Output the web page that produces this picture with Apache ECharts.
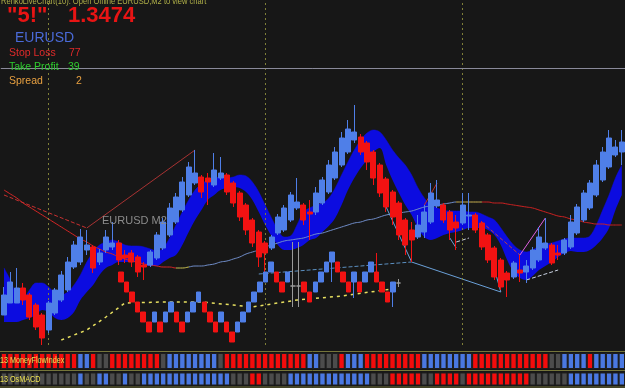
<!DOCTYPE html>
<html><head><meta charset="utf-8">
<script src="https://cdn.jsdelivr.net/npm/echarts@6/dist/echarts.min.js"></script>
<style>html,body{margin:0;padding:0;background:#171717;overflow:hidden}#c{width:625px;height:388px;}</style>
</head><body><div id="c"></div>
<script>
// ---- main renko candles (value = pips above base) ----
const mainOpen  = [30,42,42,57,50,40,30,15,32,45,55,78,83,95,98,83,95,98,102,90,92,88,80,80,87,97,110,123,135,150,162,168,167,160,167,170,162,152,140,125,113,102,97,112,115,125,137,140,133,133,142,153,167,180,193,205,208,202,193,180,166,153,142,125,115,108,113,123,139,140,133,123,122,129,130,122,110,97,85,72,68,75,73,77,85,97,100,92,92,98,112,125,137,150,165,178,190,193];
const mainClose = [50,63,57,45,28,18,7,42,55,70,83,100,108,100,77,92,108,102,85,87,83,73,78,93,110,123,137,148,163,178,172,153,163,175,172,153,142,128,115,102,88,92,108,128,137,150,143,125,131,152,165,180,193,207,216,213,193,183,167,152,138,128,110,100,105,120,133,152,145,125,115,117,140,130,115,98,85,68,58,65,82,72,79,95,108,102,82,90,105,123,138,152,162,180,193,207,198,203];
const mainLow   = [30,42,42,40,25,15,0,12,30,43,53,76,80,90,72,80,92,95,80,82,78,68,65,78,85,95,108,121,133,148,160,147,140,158,165,150,138,124,110,98,78,65,95,110,113,123,135,120,105,130,140,151,165,178,191,202,190,175,160,148,133,120,105,90,83,106,107,121,137,122,105,95,120,115,112,95,82,65,55,48,66,63,62,75,83,95,80,85,90,96,110,123,135,148,163,176,188,180];
const mainHigh  = [58,73,77,62,52,42,32,44,57,74,88,104,116,115,100,96,115,123,105,95,95,90,83,95,113,127,142,152,168,183,195,170,172,192,188,172,164,154,142,127,115,104,110,131,140,153,167,142,145,158,168,185,198,213,225,240,211,204,195,182,168,155,144,127,123,130,140,162,165,142,135,130,152,152,132,124,112,99,87,74,84,90,85,98,118,127,102,100,107,130,141,155,165,185,198,215,205,215];

// ---- secondary (lower) renko bricks ----
const lowerOpen  = [73,63,53,43,33,23,23,23,23,33,33,23,23,33,43,43,33,23,23,23,13,13,23,33,43,53,63,73,73,63,63,59,59,63,53,53,63,73,83,83,73,63,63,63,63,73,73,63,53,53,62];
const lowerClose = [63,53,43,33,23,13,33,13,33,43,23,13,33,43,53,33,23,13,33,13,3,23,33,43,53,63,73,83,63,53,73,59,59,53,43,63,73,83,93,73,63,53,73,53,73,83,63,53,43,63,62];
const lowerLow   = [63,53,43,33,23,13,23,13,23,33,23,13,23,33,43,33,23,13,23,13,3,13,23,33,43,53,63,73,63,53,63,38,38,53,43,53,63,73,63,73,63,53,47,53,63,73,63,53,43,38,58];
const lowerHigh  = [73,63,53,43,33,23,33,23,33,43,33,23,33,43,53,43,33,23,33,23,13,23,33,43,53,63,73,83,73,63,73,103,103,63,53,63,73,83,93,83,73,63,73,63,73,83,92,63,53,63,66];

// ---- blue ribbon edges ----
const ribbonUpper = [77,65,50,47,55,62,62,58,52,50,53,60,70,83,93,100,103,105,103,100,99,99,98,96,94,97,107,120,133,145,155,161,165,167,168,167,168,170,169,163,153,140,127,115,108,109,120,133,137,140,142,147,157,170,183,195,205,212,215,213,205,195,187,180,170,157,147,140,137,135,134,134,134,133,133,131,128,125,117,108,100,95,93,95,99,101,102,104,106,107,107,107,109,120,135,150,167,180];
const ribbonLower = [23,23,23,25,27,30,35,33,27,25,27,33,45,53,60,70,77,80,83,83,83,82,80,79,79,83,87,90,100,113,125,135,145,150,155,157,158,157,153,145,133,120,109,100,95,95,97,100,105,107,113,119,127,140,155,167,177,185,193,197,180,165,152,140,130,117,108,105,107,110,112,113,115,117,117,117,115,110,100,85,73,67,65,69,75,79,83,88,92,94,93,93,95,100,107,117,135,150];

// ---- moving average ----
const maLine = [155,151,147,142,138,134,130,126,122,118,114,110,106,103,99,96,93,91,88,86,84,83,81,80,79,78,78,77,77,78,79,79,80,81,83,84,86,88,91,93,95,98,100,102,104,105,106,107,109,111,112,114,116,118,120,122,123,125,126,128,130,131,132,133,134,136,138,139,140,141,142,143,143,143,143,143,143,142,142,141,140,139,138,137,135,133,131,129,128,126,125,123,122,121,121,120,120,120];

// ---- zigzag / helper lines: [slot, value] ----
const zzRedDashed  = [[0,150],[13,117]];
const zzRedSolid   = [[13,117],[30,195]];
const zzBlue       = [[60,138],[64,83],[78,53],[75,122]];
const zzBlueSmall  = [[70,107],[71,97]];
const zzRedSmall   = [[66,140],[68,162]];
const zzRedDash2   = [[75,123],[81,90]];
const zzPink       = [[81,90],[85,127]];
const zzWhiteDash  = [[82,65],[87,75]];
const zzWhiteDash2 = [[71,103],[73,107]];
const blueDashLow  = [[40,71],[50,76],[64,83]];
const yellowDash   = [[9,5],[13,15],[16,28],[19,42],[25,43],[31,43],[36,40],[39,38],[46,45],[53,49],[62,57]];

// ---- indicator strips (r = red, b = blue, g = gray) ----
const mfiCells  = "rrrrrrrrrrrr"+"bb"+"r"+"gg"+"rrrrrrrr"+"g"+"bbbbbbbb"+"g"+"rrrrrrrrrrrrr"+"bb"+"ggg"+"r"+"bbb"+"rrrrrrrrr"+"bbbbbbbb"+"rrrrrrrrrrrr"+"gg"+"bbbb"+"r"+"bbbbb";
const macdCells = "gggggggggggg"+"b"+"gg"+"bb"+"gg"+"b"+"gg"+"bbbbbbbbbbbbbb"+"ggg"+"rr"+"gggg"+"bbbbbbbbbbbbb"+"ggg"+"rrrrr"+"gg"+"rrrr"+"g"+"rrrrrrrrrr"+"gggggg"+"bbbbbbbbb";

const vLines = ['7','41','72'];
const hLineValue = 277;

const BLUE = '#4f7fe8', RED = '#f21212', GRAY = '#9a9a9a';
const cellColor = {r:'#f40c0c', b:'#4a78e2', g:'#4c4c4c'};
const W = 6.38, LW = 5.55;
const cats = mainOpen.map((_, i) => String(i));
const lowerCats = lowerOpen.map((_, i) => String(i));

const mainData = mainOpen.map((o, i) => [o, mainClose[i], mainLow[i], mainHigh[i]]);
const lowerData = lowerOpen.map((o, i) => {
  const d = {value: [o, lowerClose[i], lowerLow[i], lowerHigh[i]]};
  if (o === lowerClose[i]) d.itemStyle = {color: GRAY, color0: GRAY, borderColor: GRAY, borderColor0: GRAY, borderColorDoji: GRAY};
  return d;
});
const ribbonThick = ribbonUpper.map((u, i) => u - ribbonLower[i]);
const cellsData = s => s.split('').map(ch => ({value: 1, itemStyle: {color: cellColor[ch]}}));

function seg(data, color, type, width, idx) {
  return {type: 'line', xAxisIndex: 0, yAxisIndex: 0, data: data, symbol: 'none', silent: true,
    lineStyle: {color: color, type: type, width: width || 1}, z: idx || 4};
}

const chart = echarts.init(document.getElementById('c'), null, {renderer: 'canvas'});
const txt = (t, x, y, size, color, weight, sx) => ({type: 'text', x: x, y: y, z: 100, silent: true, scaleX: sx || 1,
  style: {text: t, fill: color, font: (weight || 'normal') + ' ' + size + 'px "Liberation Sans", Arial, sans-serif', textVerticalAlign: 'top'}});
const hl = (y, c) => ({type: 'line', z: 50, silent: true, shape: {x1: 0, y1: y, x2: 625, y2: y}, style: {stroke: c, lineWidth: 1}});

chart.setOption({
  backgroundColor: '#171717',
  animation: false,
  grid: [
    {left: 0.81, top: 0, width: 98 * W, height: 345},
    {left: 121 - LW / 2, top: 0, width: 51 * LW, height: 345},
    {left: 0.81, top: 353, width: 98 * W, height: 16},
    {left: 0.81, top: 372.5, width: 98 * W, height: 13}
  ],
  xAxis: [
    {type: 'category', data: cats, gridIndex: 0, show: false},
    {type: 'category', data: lowerCats, gridIndex: 1, show: false},
    {type: 'category', data: cats, gridIndex: 2, show: false},
    {type: 'category', data: cats, gridIndex: 3, show: false}
  ],
  yAxis: [
    {type: 'value', min: 0, max: 345, gridIndex: 0, show: false},
    {type: 'value', min: 0, max: 345, gridIndex: 1, show: false},
    {type: 'value', min: 0, max: 1, gridIndex: 2, show: false},
    {type: 'value', min: 0, max: 1, gridIndex: 3, show: false}
  ],
  visualMap: {
    type: 'piecewise', show: false, seriesIndex: 2, dimension: 0,
    pieces: [
      {lt: 27, color: '#d42424'}, {gte: 27, lt: 29, color: '#c8c050'},
      {gte: 29, lt: 71, color: '#6f8cc8'}, {gte: 71, lt: 75, color: '#c8b050'},
      {gte: 75, color: '#cc2020'}
    ]
  },
  series: [
    {type: 'line', data: ribbonLower, stack: 'rib', symbol: 'none', smooth: 0.35, silent: true,
      lineStyle: {width: 0, opacity: 0}, z: 1},
    {type: 'line', data: ribbonThick, stack: 'rib', symbol: 'none', smooth: 0.35, silent: true,
      lineStyle: {width: 0.5, color: '#0c0ce0'}, areaStyle: {color: '#0c0ce0', opacity: 1}, z: 1},
    {type: 'line', data: maLine, symbol: 'none', smooth: true, silent: true, lineStyle: {width: 1}, z: 3},
    seg(zzRedDashed, '#c83030', 'dashed', 1),
    seg(zzRedSolid, '#a83232', 'solid', 1),
    seg(zzBlue, '#6aa0d8', 'solid', 1),
    seg(zzBlueSmall, '#6aa0d8', 'solid', 1),
    seg(zzRedSmall, '#c03030', 'solid', 1),
    seg(zzRedDash2, '#c04040', 'dashed', 1),
    seg(zzPink, '#e060e0', 'solid', 1),
    seg(zzWhiteDash, '#c8d0e0', 'dashed', 1),
    seg(zzWhiteDash2, '#c8d0e0', 'dashed', 1),
    seg(blueDashLow, '#5b8fc0', 'dashed', 1),
    seg(yellowDash, '#e8e060', [3, 4], 1.5),
    {type: 'candlestick', xAxisIndex: 0, yAxisIndex: 0, data: mainData, barWidth: 5.5, z: 5, silent: true,
      itemStyle: {color: BLUE, color0: RED, borderColor: BLUE, borderColor0: RED, borderWidth: 1},
      markLine: {symbol: 'none', silent: true, label: {show: false}, animation: false,
        data: vLines.map(v => ({xAxis: v, lineStyle: {color: '#808038', type: [2, 3], width: 1}}))
          .concat([{yAxis: hLineValue, lineStyle: {color: '#8a8a9a', type: 'solid', width: 1}}])}},
    {type: 'candlestick', xAxisIndex: 1, yAxisIndex: 1, data: lowerData, barWidth: 5, z: 6, silent: true,
      itemStyle: {color: BLUE, color0: RED, borderColor: BLUE, borderColor0: RED, borderWidth: 1}},
    {type: 'bar', xAxisIndex: 2, yAxisIndex: 2, data: cellsData(mfiCells), barCategoryGap: '0%', silent: true,
      itemStyle: {borderColor: '#1e1e1e', borderWidth: 1}},
    {type: 'bar', xAxisIndex: 3, yAxisIndex: 3, data: cellsData(macdCells), barCategoryGap: '0%', silent: true,
      itemStyle: {borderColor: '#1e1e1e', borderWidth: 1}}
  ],
  graphic: [
    hl(351.5, '#75753a'), hl(370.5, '#75753a'), hl(387, '#75753a'),
    txt('RenkoLiveChart(10): Open Offline EURUSD,M2 to view chart', 1, -3, 9, '#b0b048', 'normal', 0.84),
    txt('"5!"', 7, 5, 22, '#e81414', 'bold'),
    txt('1.3474', 68, 5, 22, '#e81414', 'bold'),
    txt('EURUSD', 15, 31, 14, '#4a6ad8'),
    txt('Stop Loss', 9, 48, 10.5, '#e02a2a'),
    txt('77', 69, 48, 10.5, '#e02a2a'),
    txt('Take Profit', 9, 62, 10.5, '#2ecc2e'),
    txt('39', 68, 62, 10.5, '#2ecc2e'),
    txt('Spread', 9, 76, 10.5, '#e8a040'),
    txt('2', 76, 76, 10.5, '#e8a040'),
    txt('EURUSD M2', 102, 215, 11, '#8c8c8c'),
    txt('13 MoneyFlowIndex', 0, 356, 9, '#ece050', 'normal', 0.8),
    txt('13 OsMACD', 0, 375.5, 9, '#ece050', 'normal', 0.8)
  ]
});
</script></body></html>
